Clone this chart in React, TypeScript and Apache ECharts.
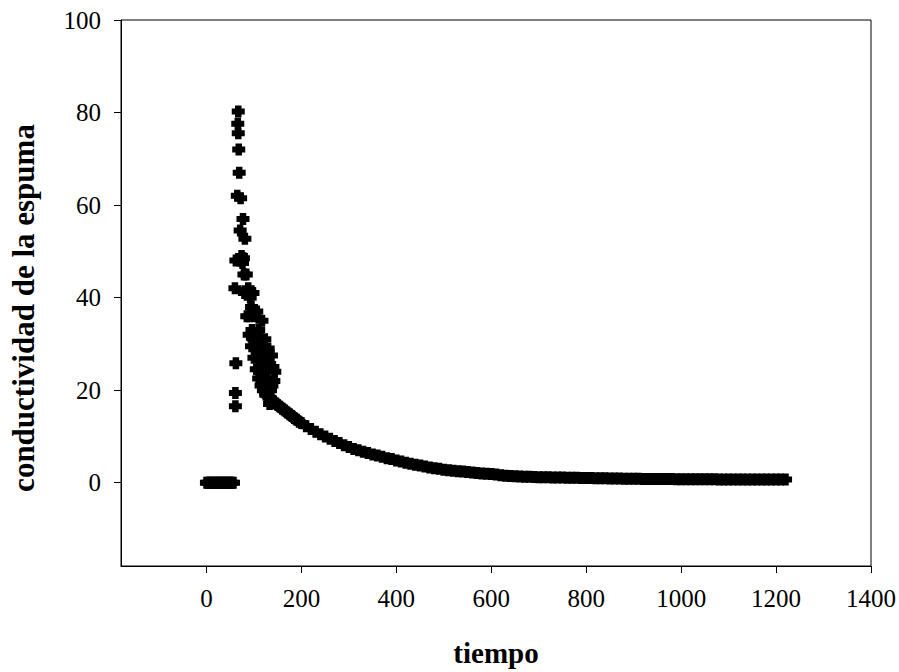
import React, { useEffect, useRef } from "react";
import * as echarts from "echarts";

// Baseline before the injection (conductivity 0)
const baselineTime = [0, 3, 6, 9, 12, 15, 18, 21, 24, 27, 30, 33, 36, 39, 42, 45, 48, 51, 54, 57];
const baselineValue = [0, 0, 0, 0, 0, 0, 0, 0, 0, 0, 0, 0, 0, 0, 0, 0, 0, 0, 0, 0];

// Sharp rise and peak
const peakTime = [61, 61, 62, 60, 62, 67, 66, 67, 68, 69, 65, 72, 77, 71, 81, 74, 76, 70, 78, 79];
const peakValue = [16.5, 19.4, 25.8, 42, 48, 80.2, 77.6, 75.5, 72, 67, 62, 61.5, 57, 54.5, 52.7, 49, 47.5, 48, 48.5, 45];

// Main decay curve
const decayTime = [75, 80, 85, 90, 95, 100, 105, 110, 115, 120, 125, 130, 135, 140, 145, 150, 155, 160, 165, 170, 175, 180, 185, 190, 195, 200, 210, 220, 230, 240, 250, 260, 270, 280, 290, 300, 310, 320, 330, 340, 350, 360, 370, 380, 390, 400, 410, 420, 430, 440, 450, 460, 470, 480, 490, 500, 510, 520, 530, 540, 550, 560, 570, 580, 590, 600, 610, 620, 630, 640];
const decayValue = [48, 41, 36, 32, 29.5, 27, 24.5, 22.5, 21, 20, 19.4, 18.8, 18.2, 17.7, 17.2, 16.8, 16.4, 16, 15.6, 15.2, 14.8, 14.4, 14, 13.6, 13.2, 12.9, 12.2, 11.6, 11, 10.5, 10, 9.5, 9, 8.6, 8.1, 7.7, 7.3, 7, 6.7, 6.4, 6.1, 5.9, 5.6, 5.3, 5.1, 4.8, 4.6, 4.3, 4.1, 3.9, 3.7, 3.5, 3.3, 3.1, 3, 2.8, 2.7, 2.6, 2.5, 2.4, 2.3, 2.2, 2.1, 2, 1.95, 1.9, 1.8, 1.6, 1.5, 1.45];

// Scattered readings above the decay curve
const scatterTime = [84, 88, 92, 95, 98, 102, 106, 110, 114, 117, 120, 123, 126, 130, 133, 137, 140, 144, 142, 135, 133, 125, 128, 118, 108, 100, 112, 138, 90, 96, 104, 116, 122, 128];
const scatterValue = [45, 42, 40, 38, 41, 36, 37, 33, 31, 35, 29, 31, 27, 29, 25, 27.5, 25, 24, 22, 20, 17, 19, 22.5, 24, 28, 31, 26.5, 21, 36, 33, 30, 27, 26, 25];

// Long tail
const tailTime = [650, 660, 670, 680, 690, 700, 710, 720, 730, 740, 750, 760, 770, 780, 790, 800, 810, 820, 830, 840, 850, 860, 870, 880, 890, 900, 910, 920, 930, 940, 950, 960, 970, 980, 990, 1000, 1010, 1020, 1030, 1040, 1050, 1060, 1070, 1080, 1090, 1100, 1110, 1120, 1130, 1140, 1150, 1160, 1170, 1180, 1190, 1200, 1210, 1220];
const tailValue = [1.4, 1.35, 1.3, 1.3, 1.25, 1.2, 1.2, 1.2, 1.15, 1.1, 1.1, 1.05, 1.05, 1.05, 1, 1, 1, 0.95, 0.95, 0.95, 0.9, 0.9, 0.9, 0.85, 0.85, 0.85, 0.85, 0.8, 0.8, 0.8, 0.8, 0.8, 0.8, 0.8, 0.75, 0.75, 0.75, 0.75, 0.75, 0.75, 0.75, 0.75, 0.75, 0.7, 0.7, 0.7, 0.7, 0.7, 0.7, 0.7, 0.7, 0.7, 0.7, 0.7, 0.7, 0.7, 0.7, 0.7];

const xTicks = [0, 200, 400, 600, 800, 1000, 1200, 1400];
const yTicks = [0, 20, 40, 60, 80, 100];

const FONT = "'Liberation Serif', 'Times New Roman', serif";
const PLUS = "path://M2.5,0 H7.5 V2.5 H10 V7.5 H7.5 V10 H2.5 V7.5 H0 V2.5 H2.5 Z";

function pairs(xs: number[], ys: number[]) {
  return xs.map((x, i) => [x, ys[i]]);
}

export default function App() {
  const ref = useRef<HTMLDivElement>(null);
  useEffect(() => {
    document.body.style.margin = "0";
    if (!ref.current) return;
    const chart = echarts.init(ref.current, null, { renderer: "svg" });
    const data = [
      ...pairs(baselineTime, baselineValue),
      ...pairs(peakTime, peakValue),
      ...pairs(decayTime, decayValue),
      ...pairs(scatterTime, scatterValue),
      ...pairs(tailTime, tailValue),
    ];
    chart.setOption({
      animation: false,
      backgroundColor: "#fff",
      grid: {
        left: 116,
        right: 26,
        top: 20,
        bottom: 104,
        show: true,
        borderColor: "#000",
        borderWidth: 1,
        backgroundColor: "transparent",
      },
      xAxis: {
        type: "value",
        min: -180,
        max: 1400,
        name: "tiempo",
        nameLocation: "middle",
        nameGap: 72,
        nameTextStyle: { fontFamily: FONT, fontSize: 29, fontWeight: "bold", color: "#000" },
        splitLine: { show: false },
        axisLine: { onZero: false, lineStyle: { color: "#000", width: 1 } },
        axisTick: { show: true, inside: false, length: 7, customValues: xTicks, lineStyle: { color: "#000" } },
        axisLabel: {
          customValues: xTicks,
          margin: 20,
          fontFamily: FONT,
          fontSize: 25,
          color: "#000",
          formatter: (v: number) => String(v),
        },
      },
      yAxis: {
        type: "value",
        min: -18,
        max: 100,
        name: "conductividad de la espuma",
        nameLocation: "middle",
        nameGap: 82,
        nameTextStyle: {
          fontFamily: FONT,
          fontSize: 31,
          fontWeight: "bold",
          color: "#000",
          padding: [0, 30, 0, 0],
        },
        splitLine: { show: false },
        axisLine: { onZero: false, lineStyle: { color: "#000", width: 1 } },
        axisTick: { show: true, inside: false, length: 7, customValues: yTicks, lineStyle: { color: "#000" } },
        axisLabel: {
          customValues: yTicks,
          margin: 20,
          fontFamily: FONT,
          fontSize: 25,
          color: "#000",
          formatter: (v: number) => String(v),
        },
      },
      series: [
        {
          type: "scatter",
          data,
          symbol: PLUS,
          symbolSize: [13, 12],
          itemStyle: { color: "#000", opacity: 1 },
        },
      ],
    });
    return () => chart.dispose();
  }, []);
  return <div ref={ref} style={{ width: 899, height: 672 }} />;
}
